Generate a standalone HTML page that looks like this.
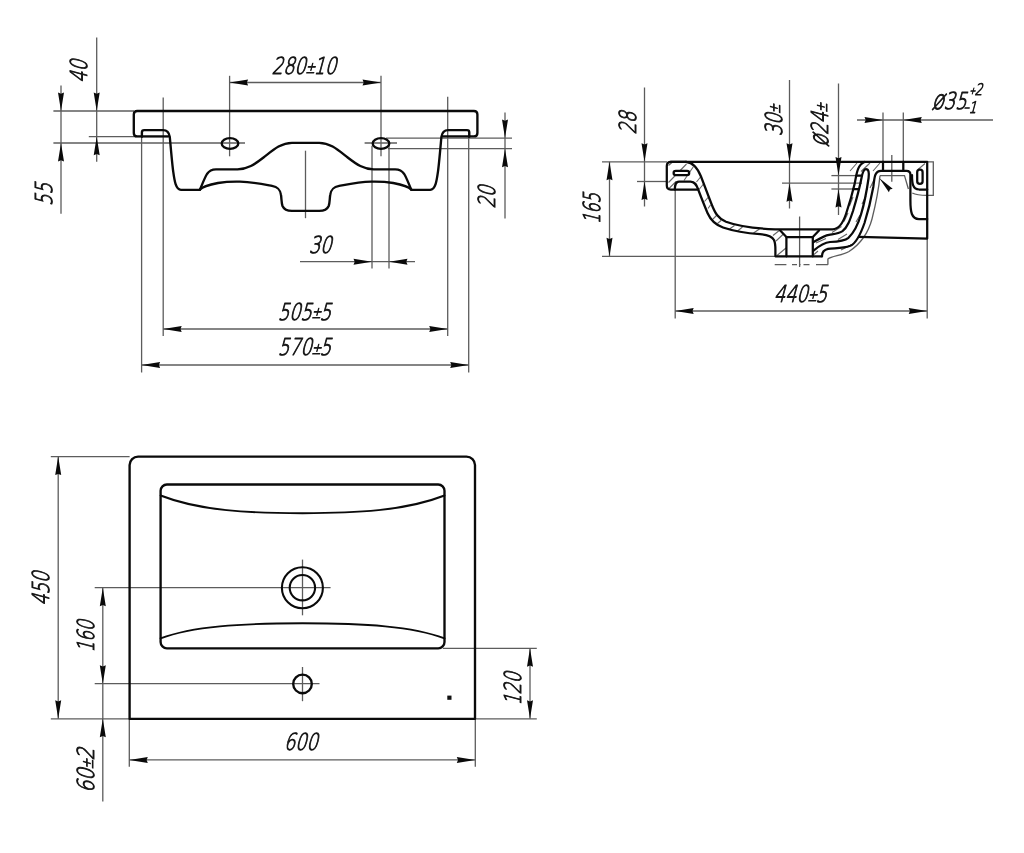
<!DOCTYPE html>
<html lang="en">
<head>
<meta charset="utf-8">
<title>Washbasin 600 x 450 - dimensional drawing</title>
<style>
html,body{margin:0;padding:0;background:#fff;}
body{width:1024px;height:853px;overflow:hidden;}
svg{display:block;filter:grayscale(1);}
.thin{stroke:#5c5c5c;stroke-width:1.3;fill:none;}
.thick{stroke:#0a0a0a;stroke-width:2.35;fill:none;stroke-linejoin:round;stroke-linecap:round;}
.arr{fill:#0a0a0a;stroke:none;}
.txt{font-family:"DejaVu Sans","Liberation Sans",sans-serif;font-weight:200;fill:#161616;stroke:#161616;stroke-width:1.0;stroke-linejoin:round;}
.txt .pm{font-size:0.66em;}
.txt .sg{font-size:0.6em;}
.txt .dia{font-size:1.12em;}
</style>
</head>
<body>
<svg width="1024" height="853" viewBox="0 0 1024 853">
<rect width="1024" height="853" fill="#ffffff"/>
<g class="thin">
<line x1="53.4" y1="111" x2="134" y2="111"/>
<line x1="88.8" y1="136.7" x2="168" y2="136.7"/>
<line x1="53.4" y1="143" x2="245" y2="143"/>
<line x1="61" y1="85.5" x2="61" y2="213.8"/>
<line x1="96.7" y1="37.5" x2="96.7" y2="161.8"/>
<line x1="163.2" y1="97.5" x2="163.2" y2="336"/>
<line x1="141.6" y1="131" x2="141.6" y2="372.5"/>
<line x1="229.6" y1="75.8" x2="229.6" y2="156.3"/>
<line x1="381" y1="75.8" x2="381" y2="156.3"/>
<line x1="364.6" y1="143" x2="397" y2="143"/>
<line x1="305.5" y1="150.7" x2="305.5" y2="218.2"/>
<line x1="229.6" y1="82.5" x2="381" y2="82.5"/>
<line x1="372" y1="145.8" x2="372" y2="268.5"/>
<line x1="389" y1="145.8" x2="389" y2="268.5"/>
<line x1="300" y1="261.7" x2="415" y2="261.7"/>
<line x1="386" y1="138.1" x2="512" y2="138.1"/>
<line x1="388" y1="148.7" x2="512" y2="148.7"/>
<line x1="505" y1="112.5" x2="505" y2="218.5"/>
<line x1="447.7" y1="96.8" x2="447.7" y2="336"/>
<line x1="468.7" y1="131" x2="468.7" y2="372.5"/>
<line x1="163.2" y1="329" x2="447.7" y2="329"/>
<line x1="141.6" y1="365" x2="468.7" y2="365"/>
<line x1="602" y1="161.8" x2="667" y2="161.8"/>
<line x1="637" y1="181.5" x2="667" y2="181.5"/>
<line x1="602" y1="256.3" x2="775.4" y2="256.3"/>
<line x1="782" y1="183.2" x2="862" y2="183.2"/>
<line x1="831.4" y1="175.6" x2="857" y2="175.6"/>
<line x1="831.4" y1="189" x2="854" y2="189"/>
<line x1="675.2" y1="189.5" x2="675.2" y2="318.5"/>
<line x1="927.2" y1="238.6" x2="927.2" y2="318.5"/>
<line x1="609.5" y1="161.8" x2="609.5" y2="256.3"/>
<line x1="644.5" y1="87.5" x2="644.5" y2="206.5"/>
<line x1="789.5" y1="80" x2="789.5" y2="208.5"/>
<line x1="838.5" y1="83.5" x2="838.5" y2="215"/>
<line x1="883" y1="112.5" x2="883" y2="161.8"/>
<line x1="903.3" y1="112.5" x2="903.3" y2="161.8"/>
<line x1="891.8" y1="154.9" x2="891.8" y2="181.7"/>
<line x1="799.6" y1="216.5" x2="799.6" y2="267"/>
<path d="M927.2,161.8 H933.3 V195.4 H927.2"/>
<path d="M912.3,193 C916,195 921,195.4 927.2,195.4"/>
<line x1="675.2" y1="311" x2="927.2" y2="311"/>
<line x1="857" y1="120" x2="993" y2="120"/>
<path d="M880,175.6 C879,186 876.5,201 872,219 C868.5,232 862,243 849,251.5 C842,255.5 832,256 827.9,259 V264.7"/>
<path d="M880,175.6 H904.5 L908.4,189"/>
<path d="M774.7,264.7 H786.4 M792,264.7 H797 M799,264.7 H800.5 M803.5,264.7 H809.5 M816,264.7 H827.9"/>
<path d="M668.5,165.5 L672,162.5 M668.5,182.5 L686.5,164 M669,188.5 L676,181.5 M684,180.5 L693.5,166.5 M696.5,182 L700.5,177 M699,189.5 L703.5,184 M704.5,201.5 L708,197.5 M708,208.5 L710.5,205 M713,219 L716.5,215.5 M717.5,223.5 L721,220.5 M729.5,229 L734.5,225.5 M737.5,231 L742.5,227 M753.5,233 L759.5,229 M773,235.5 L780.5,229.5 M776,241 L784,233.5 M777,255.5 L786,248 M814,254.5 L818,251 M857,163 L850,171 M870,163 L861,171.5 M880,163 L873,171 M925,163.5 L918,169.5 M874,180 L870,188 M866,196 L862,204 M860,215 L856,222 M853,197 L849.5,206 M848,213 L844,221.5 M841.5,226.5 L832,232.5 M826,238.5 L816,243 M847,234 L838,239.5 M852,244.5 L841,250" stroke-width="1.1" stroke="#666"/>
<rect x="447.3" y="695.6" width="4.2" height="4.2" fill="#111" stroke="none"/>
<line x1="50.8" y1="456.6" x2="129.6" y2="456.6"/>
<line x1="50.8" y1="718.8" x2="129.6" y2="718.8"/>
<line x1="94.7" y1="587.7" x2="330.6" y2="587.7"/>
<line x1="94.7" y1="683.7" x2="319.5" y2="683.7"/>
<line x1="58.2" y1="456.6" x2="58.2" y2="718.8"/>
<line x1="102.8" y1="587.7" x2="102.8" y2="801.4"/>
<line x1="129.3" y1="718.8" x2="129.3" y2="766.7"/>
<line x1="475.3" y1="718.8" x2="475.3" y2="766.7"/>
<line x1="129.3" y1="759.9" x2="475.3" y2="759.9"/>
<line x1="442.8" y1="648.3" x2="536.8" y2="648.3"/>
<line x1="475.3" y1="718.8" x2="536.8" y2="718.8"/>
<line x1="530" y1="648.3" x2="530" y2="718.8"/>
<line x1="302.5" y1="559.6" x2="302.5" y2="615.3"/>
<line x1="302.5" y1="667" x2="302.5" y2="701.2"/>
</g>
<g class="thick">
<path d="M141.9,136.4 H137.3 Q133.8,136.4 133.8,132.9 V114.5 Q133.8,111 137.3,111 H473.9 Q477.4,111 477.4,114.5 V132.9 Q477.4,136.4 473.9,136.4 H469.3"/>
<path d="M141.9,136.4 V132.4 Q141.9,130.1 144.2,130.1 H163 C167.4,130.1 169.2,132.6 169.8,137 C170.8,148 171.8,160 173,170 C174.4,180 175.5,189.8 181,189.8 H199.8"/>
<path d="M142,136.4 H168.6"/>
<path d="M469.3,136.4 V132.4 Q469.3,130.1 467.0,130.1 H448.2 C443.8,130.1 442.0,132.6 441.4,137 C440.4,148 439.4,160 438.2,170 C436.8,180 435.7,189.8 430.2,189.8 H411.4"/>
<path d="M469.2,136.4 H442.6"/>
<path d="M199.8,189.8 C202.5,184 204.5,178 207,174 C209.5,170.2 212,169.3 216,169.3 H237.5 C247.5,169.3 254.5,164.5 263.5,157.5 C272.5,150.5 280.5,142.8 292,142.8 H319.2 C330.7,142.8 338.7,150.5 347.7,157.5 C356.7,164.5 363.7,169.3 373.7,169.3 H395.2 C399.2,169.3 401.7,170.2 404.2,174 C406.7,178 408.7,184 411.4,189.8"/>
<path d="M199.8,189.8 C203,186 210,184.5 218,183 C225,181.8 232,181.4 240,181.6 C252,182 262,184 272,185.8 C278,187 280.3,189.5 281,195 C281.6,199 281.4,203 282.5,206 C284,209.5 287,210.9 292,210.9 H319.2 C324.2,210.9 327.2,209.5 328.7,206 C329.8,203 329.6,199 330.2,195 C330.9,189.5 333.2,187 339.2,185.8 C349.2,184 359.2,182 371.2,181.6 C379.2,181.4 386.2,181.8 393.2,183 C401.2,184.5 408.2,186 411.4,189.8"/>
<ellipse cx="230" cy="143.5" rx="8.3" ry="5.4"/>
<ellipse cx="381" cy="143.5" rx="8.3" ry="5.4"/>
<g stroke-width="2.25">
<path d="M670.6,161.8 H927.2 V238.6 L859,236.9"/>
<path d="M686,161.8 H671 Q666.8,161.8 666.8,166 V185.5 Q666.8,189.5 670.8,189.5 H697.5"/>
<path d="M674.8,189.5 C675,186 675,181.5 679,181.5 H690.5 C695,181.5 696.5,185 698,189 C701,197 704,204.5 707.5,213 C711,221 716,225 723,227.5 C735,231.5 750,233.5 760,234.2 C768,234.6 772,236.5 774,240 C775.4,243 775.4,246 775.4,250 V256.3 H822"/>
<path d="M686,161.8 C694,162.5 698,169 701,176.5 C705,187 708,195 711.5,204 C715,213 718,218.5 726,221.8 C738,226.3 756,228.6 775,229.3 H832.5 C839,229.3 843,223 846,214 C850,202 852.5,193 854.6,184 C856.5,175 857,165 864.5,162"/>
<rect x="673.6" y="170.8" width="15.6" height="4.4" rx="2.2" ry="2.2" fill="#fff"/>
<path d="M780.2,230.5 L786.4,237 V256.3"/>
<path d="M819,230.5 L812.8,237 V256.3"/>
<path d="M786.4,237 H812.8"/>
<path d="M813.2,242.3 C819,239 824,235.6 829,234.8 C834,234 838.5,234 842.5,231.2 C847.5,227.5 850,220 853,211 C856,201 859.5,188 861.5,178 C862.5,172.5 863.5,169.2 866,169.2 C868.6,169.2 869.3,172.5 868.6,178 C867,189 864.5,203 861,214.5 C858.5,223 855,231.5 848.5,237.8 C844.5,241 838,241.6 830,242 C824,242.5 819,246 813.2,250.8"/>
<path d="M822,256.3 C822,252 823.5,250 828,248.9 C833,247.8 842,249 850.3,245.8 C857,243 861,233 864.5,223 C868,212 871.5,197 873.3,187 C874.5,179 874,170.8 881,170.8 H906.5 Q910.4,170.8 910.4,174.5 V200 C910.4,212 911.5,219 919,219 H927.2"/>
<path d="M883,161.8 V170.8 M903.3,161.8 V170.8"/>
<rect x="917.2" y="169.6" width="5.4" height="14.2" rx="2.6" ry="2.6" fill="#fff"/>
<path d="M912,175 C912,183 912.5,189.3 919,189.5 H927.2"/>
<path d="M856.3,175.6 H862 M853.5,189 H859"/>
</g>
<path d="M129.6,718.8 V465.1 A8.5,8.5 0 0 1 138.1,456.6 H466.5 A8.5,8.5 0 0 1 475,465.1 V718.8 Z"/>
<rect x="160.6" y="484.5" width="283.9" height="163.8" rx="6.3" ry="6.3"/>
<path d="M160.6,495.5 C200,511 250,513.2 302.6,513.2 C355,513.2 405,511 444.5,495.5" stroke-width="1.9"/>
<path d="M160.6,638.4 C192,626.5 240,623.3 302.6,623.3 C365,623.3 413,626.5 444.5,638.4" stroke-width="1.9"/>
<circle cx="302.4" cy="587.7" r="20.5" stroke-width="2.1"/>
<circle cx="302.4" cy="587.7" r="12.7" stroke-width="2.1"/>
<circle cx="302.5" cy="683.9" r="9.3"/>
</g>
<g class="arr">
<polygon points="61.00,111.00 58.00,92.50 61.00,93.70 64.00,92.50"/>
<polygon points="61.00,143.00 64.00,161.50 61.00,160.30 58.00,161.50"/>
<polygon points="96.70,111.00 93.70,92.50 96.70,93.70 99.70,92.50"/>
<polygon points="96.70,136.70 99.70,155.20 96.70,154.00 93.70,155.20"/>
<polygon points="229.60,82.50 248.10,79.50 246.90,82.50 248.10,85.50"/>
<polygon points="381.00,82.50 362.50,85.50 363.70,82.50 362.50,79.50"/>
<polygon points="372.00,261.70 353.50,264.70 354.70,261.70 353.50,258.70"/>
<polygon points="389.00,261.70 407.50,258.70 406.30,261.70 407.50,264.70"/>
<polygon points="505.00,138.10 502.00,119.60 505.00,120.80 508.00,119.60"/>
<polygon points="505.00,148.70 508.00,167.20 505.00,166.00 502.00,167.20"/>
<polygon points="163.20,329.00 181.70,326.00 180.50,329.00 181.70,332.00"/>
<polygon points="447.70,329.00 429.20,332.00 430.40,329.00 429.20,326.00"/>
<polygon points="141.60,365.00 160.10,362.00 158.90,365.00 160.10,368.00"/>
<polygon points="468.70,365.00 450.20,368.00 451.40,365.00 450.20,362.00"/>
<polygon points="609.50,161.80 612.50,180.30 609.50,179.10 606.50,180.30"/>
<polygon points="609.50,256.30 606.50,237.80 609.50,239.00 612.50,237.80"/>
<polygon points="644.50,161.80 641.50,143.30 644.50,144.50 647.50,143.30"/>
<polygon points="644.50,181.50 647.50,200.00 644.50,198.80 641.50,200.00"/>
<polygon points="789.50,161.80 786.50,143.30 789.50,144.50 792.50,143.30"/>
<polygon points="789.50,183.20 792.50,201.70 789.50,200.50 786.50,201.70"/>
<polygon points="838.50,175.60 835.50,157.10 838.50,158.30 841.50,157.10"/>
<polygon points="838.50,189.00 841.50,207.50 838.50,206.30 835.50,207.50"/>
<polygon points="883.00,120.00 864.50,123.00 865.70,120.00 864.50,117.00"/>
<polygon points="903.30,120.00 921.80,117.00 920.60,120.00 921.80,123.00"/>
<polygon points="675.20,311.00 693.70,308.00 692.50,311.00 693.70,314.00"/>
<polygon points="927.20,311.00 908.70,314.00 909.90,311.00 908.70,308.00"/>
<polygon points="879.20,178.00 892.70,188.66 889.98,189.56 888.89,192.21"/>
<polygon points="58.20,456.60 61.20,475.10 58.20,473.90 55.20,475.10"/>
<polygon points="58.20,718.80 55.20,700.30 58.20,701.50 61.20,700.30"/>
<polygon points="102.80,587.70 105.80,606.20 102.80,605.00 99.80,606.20"/>
<polygon points="102.80,683.70 99.80,665.20 102.80,666.40 105.80,665.20"/>
<polygon points="102.80,718.80 105.80,737.30 102.80,736.10 99.80,737.30"/>
<polygon points="129.30,759.90 147.80,756.90 146.60,759.90 147.80,762.90"/>
<polygon points="475.30,759.90 456.80,762.90 458.00,759.90 456.80,756.90"/>
<polygon points="530.00,648.30 533.00,666.80 530.00,665.60 527.00,666.80"/>
<polygon points="530.00,718.80 527.00,700.30 530.00,701.50 533.00,700.30"/>
</g>
<g class="txt">
<text transform="translate(271.6,74.2) scale(0.76,1) skewX(-19.5)" font-size="23.4">280<tspan class="pm" dx="-1" dy="-1.5">±</tspan><tspan dx="-1.5" dy="1.5">10</tspan></text>
<text transform="translate(87.3,82.9) rotate(-90) scale(0.76,1) skewX(-19.5)" font-size="23.4">40</text>
<text transform="translate(52.2,205.9) rotate(-90) scale(0.76,1) skewX(-19.5)" font-size="23.4">55</text>
<text transform="translate(495,208.6) rotate(-90) scale(0.76,1) skewX(-19.5)" font-size="23.4">20</text>
<text transform="translate(308.7,252.5) scale(0.76,1) skewX(-19.5)" font-size="23.4">30</text>
<text transform="translate(277.7,319.5) scale(0.76,1) skewX(-19.5)" font-size="23.4">505<tspan class="pm" dx="-1" dy="-1.5">±</tspan><tspan dx="-1.5" dy="1.5">5</tspan></text>
<text transform="translate(277.7,355.2) scale(0.76,1) skewX(-19.5)" font-size="23.4">570<tspan class="pm" dx="-1" dy="-1.5">±</tspan><tspan dx="-1.5" dy="1.5">5</tspan></text>
<text transform="translate(635.7,134.6) rotate(-90) scale(0.76,1) skewX(-19.5)" font-size="23.4">28</text>
<text transform="translate(600.2,224.1) rotate(-90) scale(0.69,1) skewX(-19.5)" font-size="23.4">165</text>
<text transform="translate(781.6,136.3) rotate(-90) scale(0.76,1) skewX(-19.5)" font-size="23.4">30<tspan class="pm" dx="-1" dy="-1.5">±</tspan></text>
<text transform="translate(828.3,147.1) rotate(-90) scale(0.76,1) skewX(-19.5)" font-size="23.4"><tspan class="dia">ø</tspan>24<tspan class="pm" dx="-1" dy="-1.5">±</tspan></text>
<text transform="translate(931.4,108.5) scale(0.76,1) skewX(-19.5)" font-size="23.4"><tspan class="dia">ø</tspan>35</text>
<text transform="translate(968.9,95.3) scale(0.76,1) skewX(-19.5)" font-size="16"><tspan class="sg" dy="-1.5">+</tspan><tspan dx="-0.5" dy="1.5">2</tspan></text>
<text transform="translate(962.9,112.8) scale(0.76,1) skewX(-19.5)" font-size="16"><tspan class="sg" dy="-1.5">−</tspan><tspan dx="-0.5" dy="1.5">1</tspan></text>
<text transform="translate(773.7,302.2) scale(0.76,1) skewX(-19.5)" font-size="23.4">440<tspan class="pm" dx="-1" dy="-1.5">±</tspan><tspan dx="-1.5" dy="1.5">5</tspan></text>
<text transform="translate(48.8,605.8) rotate(-90) scale(0.76,1) skewX(-19.5)" font-size="23.4">450</text>
<text transform="translate(94,652.6) rotate(-90) scale(0.72,1) skewX(-19.5)" font-size="23.4">160</text>
<text transform="translate(94,793.1) rotate(-90) scale(0.81,1) skewX(-19.5)" font-size="23.4">60<tspan class="pm" dx="-1" dy="-1.5">±</tspan><tspan dx="-1.5" dy="1.5">2</tspan></text>
<text transform="translate(520.5,705.6) rotate(-90) scale(0.74,1) skewX(-19.5)" font-size="23.4">120</text>
<text transform="translate(283.7,750) scale(0.76,1) skewX(-19.5)" font-size="23.4">600</text>
</g>
</svg>
</body>
</html>
